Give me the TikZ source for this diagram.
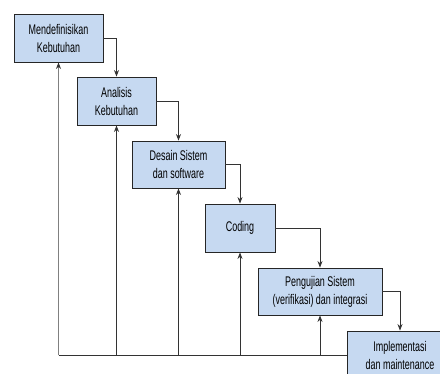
\documentclass[tikz,border=0pt]{standalone}
\usepackage{fontspec}
\setmainfont{Liberation Sans}[FakeStretch=0.64]
\usetikzlibrary{arrows.meta}

\definecolor{boxblue}{HTML}{C6D9F1}
\definecolor{linedark}{HTML}{333333}

\tikzset{
  phase/.style={draw=black!85, line width=0.9pt, fill=boxblue, align=center,
    font=\fontsize{14}{18}\selectfont, inner sep=0pt},
  flow/.style={draw=linedark, line width=0.8pt, -{Stealth[length=6.5pt,width=5pt]}},
  back/.style={flow},
}

\begin{document}
\begin{tikzpicture}[x=1pt, y=-1pt]
  \useasboundingbox (0,0) rectangle (440,373);

  % phases
  \node[phase, minimum width=89pt, minimum height=48pt] (b1) at (58.5,38) {Mendefinisikan\\Kebutuhan};
  \node[phase, minimum width=79pt, minimum height=48pt] (b2) at (116.5,101) {Analisis\\Kebutuhan};
  \node[phase, minimum width=93pt, minimum height=47pt] (b3) at (178.5,164.5) {Desain Sistem\\dan software};
  \node[phase, minimum width=70pt, minimum height=48pt] (b4) at (240,228) {Coding};
  \node[phase, minimum width=124pt, minimum height=47pt] (b5) at (320,291.5) {Pengujian Sistem\\(verifikasi) dan integrasi};
  \node[phase, minimum width=106pt, minimum height=48pt] (b6) at (400,355) {Implementasi\\dan maintenance};

  % forward flow
  \draw[flow] (b1.east) -| (b2.north);
  \draw[flow] (b2.east) -| (b3.north);
  \draw[flow] (b3.east) -| (b4.north);
  \draw[flow] (b4.east) -| (b5.north);
  \draw[flow] (b5.east) -| (b6.north);

  % feedback line
  \coordinate (f1) at (b1 |- b6.west);
  \coordinate (f2) at (b2 |- b6.west);
  \coordinate (f3) at (b3 |- b6.west);
  \coordinate (f4) at (b4 |- b6.west);
  \coordinate (f5) at (b5 |- b6.west);
  \draw[linedark, line width=1pt] (f1) -- (b6.west);
  \draw[back, draw=gray, -{Stealth[length=6.5pt,width=5pt,color=linedark]}] (f1) -- (b1.south);
  \draw[back] (f2) -- (b2.south);
  \draw[back] (f3) -- (b3.south);
  \draw[back] (f4) -- (b4.south);
  \draw[back] (f5) -- (b5.south);
\end{tikzpicture}
\end{document}
